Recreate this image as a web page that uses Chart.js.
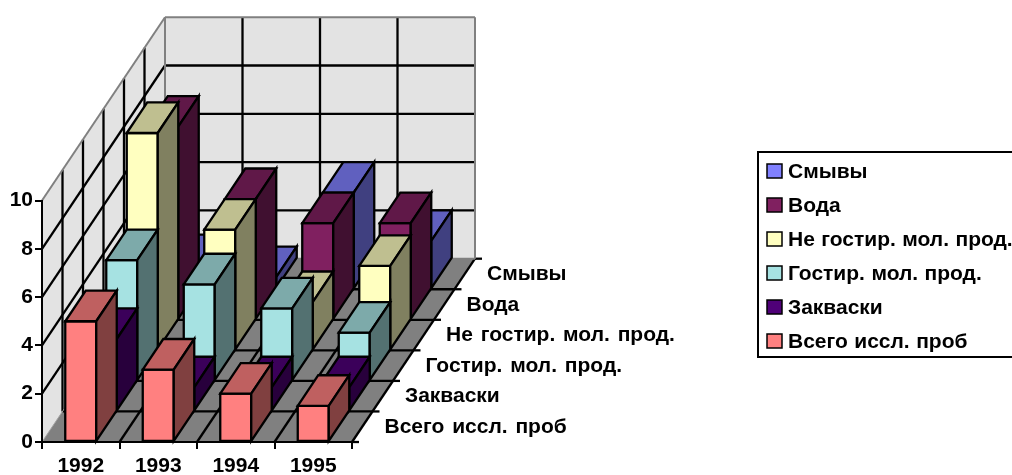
<!DOCTYPE html>
<html>
<head>
<meta charset="utf-8">
<title>Исследованные пробы</title>
<script src="https://cdn.jsdelivr.net/npm/chart.js@4"></script>
<style>
    html, body { margin: 0; padding: 0; background: #fff; overflow: hidden; }
    canvas { display: block; }
</style>
</head>
<body>
<canvas id="chart" width="1012" height="475"></canvas>
<script>
// Series go front to back along the depth axis
const years = ['1992', '1993', '1994', '1995'];
const seriesNames = ['Всего иссл. проб', 'Закваски', 'Гостир. мол. прод.', 'Не гостир. мол. прод.', 'Вода', 'Смывы'];
const vsegoProb = [5, 3, 2, 1.5];
const zakvaski = [3, 1, 1, 1];
const gostir = [5, 4, 3, 2];
const neGostir = [9, 5, 2, 3.5];
const voda = [8, 5, 4, 4];
const smyvy = [1, 0.5, 4, 2];
const seriesValues = [vsegoProb, zakvaski, gostir, neGostir, voda, smyvy];
const seriesColors = ['#FF8080', '#4F0078', '#A6E2E2', '#FFFFC0', '#802060', '#8080FF'];

// Oblique offset of one series slot along the depth axis
const DEPTH_X = 20.5;
const DEPTH_Y = 30.55;
const FONT = 'bold 21px "Liberation Sans", Arial, sans-serif';

function shade(hex, k) {
    const n = parseInt(hex.slice(1), 16);
    const r = Math.round((n >> 16 & 255) * k);
    const g = Math.round((n >> 8 & 255) * k);
    const b = Math.round((n & 255) * k);
    return `rgb(${r},${g},${b})`;
}

function poly(ctx, pts, fill) {
    ctx.beginPath();
    pts.forEach((p, i) => i ? ctx.lineTo(p[0], p[1]) : ctx.moveTo(p[0], p[1]));
    ctx.closePath();
    if (fill) {
        ctx.fillStyle = fill;
        ctx.fill();
    }
}

function line(ctx, x1, y1, x2, y2, color, width) {
    ctx.strokeStyle = color;
    ctx.lineWidth = width;
    ctx.beginPath();
    ctx.moveTo(x1, y1);
    ctx.lineTo(x2, y2);
    ctx.stroke();
}

// Walls, floor and the depth axis behind the bars
const walls = {
    id: 'walls',
    beforeDatasetsDraw(chart) {
        const { ctx, scales: { x, y } } = chart;
        const n = seriesNames.length;
        const dx = DEPTH_X * n;
        const dy = DEPTH_Y * n;
        const left = x.left, right = x.right;
        const y0 = y.getPixelForValue(0);
        const yTop = y.getPixelForValue(10);
        const edges = [];
        for (let i = 0; i <= years.length; i++) {
            edges.push(left + (right - left) * i / years.length);
        }

        ctx.save();
        ctx.lineCap = 'butt';
        poly(ctx, [[left + dx, yTop - dy], [right + dx, yTop - dy], [right + dx, y0 - dy], [left + dx, y0 - dy]], '#E3E3E3');
        poly(ctx, [[left, y0], [left, yTop], [left + dx, yTop - dy], [left + dx, y0 - dy]], '#E3E3E3');
        poly(ctx, [[left, y0], [right, y0], [right + dx, y0 - dy], [left + dx, y0 - dy]], '#808080');

        // value gridlines on the side and back walls
        y.ticks.forEach(t => {
            const py = y.getPixelForValue(t.value);
            if (t.value === 0 || t.value === 10) return;
            line(ctx, left, py, left + dx, py - dy, '#000', 2.3);
            line(ctx, left + dx, py - dy, right + dx, py - dy, '#000', 2.3);
        });
        // category lines on the back wall and floor
        edges.forEach((ex, i) => {
            if (i > 0 && i < edges.length - 1) {
                line(ctx, ex + dx, y0 - dy, ex + dx, yTop - dy, '#000', 2.3);
            }
            if (i > 0) line(ctx, ex, y0, ex + dx, y0 - dy, '#000', 2.3);
        });
        // depth lines on the floor and side wall, ticks on the right edge
        for (let i = 1; i <= n; i++) {
            const ox = DEPTH_X * i, oy = DEPTH_Y * i;
            if (i < n) {
                line(ctx, left + ox, y0 - oy, right + ox, y0 - oy, '#000', 2.3);
                line(ctx, left + ox, y0 - oy, left + ox, yTop - oy, '#000', 2.3);
            }
        }
        for (let i = 0; i <= n; i++) {
            const ox = DEPTH_X * i, oy = DEPTH_Y * i;
            line(ctx, right + ox, y0 - oy, right + ox + 7, y0 - oy, '#000', 2.3);
        }
        // grey outline of the walls
        line(ctx, left, yTop, left + dx, yTop - dy, '#808080', 2);
        line(ctx, left + dx, yTop - dy, right + dx, yTop - dy, '#808080', 2);
        line(ctx, right + dx, yTop - dy, right + dx, y0 - dy, '#808080', 2);
        line(ctx, left + dx, yTop - dy, left + dx, y0 - dy, '#808080', 2);
        line(ctx, left + dx, y0 - dy, right + dx, y0 - dy, '#808080', 2);
        line(ctx, left, y0, left + dx, y0 - dy, '#A0A0A0', 1);
        ctx.restore();
    }
};

// Each bar element becomes a box pushed back by its series slot
const boxes = {
    id: 'boxes',
    beforeDatasetDraw(chart, args) {
        const { ctx } = chart;
        const color = chart.data.datasets[args.index].backgroundColor;
        const ox = DEPTH_X * args.index;
        const oy = DEPTH_Y * args.index;
        ctx.save();
        ctx.strokeStyle = '#000';
        ctx.lineWidth = 2.3;
        ctx.lineJoin = 'miter';
        args.meta.data.forEach(el => {
            const { x, y, base, width } = el.getProps(['x', 'y', 'base', 'width'], true);
            const l = x - width / 2 + ox;
            const r = x + width / 2 + ox;
            const t = y - oy;
            const b = base - oy;
            poly(ctx, [[l, t], [r, t], [r, b], [l, b]], color);
            ctx.stroke();
            poly(ctx, [[l, t], [l + DEPTH_X, t - DEPTH_Y], [r + DEPTH_X, t - DEPTH_Y], [r, t]], shade(color, 0.75));
            ctx.stroke();
            poly(ctx, [[r, t], [r + DEPTH_X, t - DEPTH_Y], [r + DEPTH_X, b - DEPTH_Y], [r, b]], shade(color, 0.5));
            ctx.stroke();
        });
        ctx.restore();
        return false;
    }
};

// Depth axis labels and the framed legend
const labels = {
    id: 'labels',
    afterDraw(chart) {
        const { ctx, scales: { x, y } } = chart;
        const y0 = y.getPixelForValue(0);
        ctx.save();
        ctx.font = FONT;
        ctx.wordSpacing = '2px';
        ctx.fillStyle = '#000';
        ctx.textBaseline = 'middle';
        ctx.textAlign = 'left';
        seriesNames.forEach((name, i) => {
            ctx.fillText(name, x.right + 32.5 + DEPTH_X * i, y0 - 15 - DEPTH_Y * i);
        });

        ctx.strokeStyle = '#000';
        ctx.lineWidth = 2;
        ctx.beginPath();
        ctx.moveTo(1012, 152);
        ctx.lineTo(758, 152);
        ctx.lineTo(758, 357);
        ctx.lineTo(1012, 357);
        ctx.stroke();

        ctx.wordSpacing = '0.6px';
        const legendOrder = seriesNames.map((_, i) => i).reverse();
        legendOrder.forEach((s, row) => {
            const cy = 171 + row * 34;
            ctx.fillStyle = seriesColors[s];
            ctx.fillRect(767, cy - 7, 15, 14);
            ctx.lineWidth = 1.5;
            ctx.strokeRect(767, cy - 7, 15, 14);
            ctx.fillStyle = '#000';
            ctx.fillText(seriesNames[s], 788, cy + 1);
        });
        ctx.restore();
    }
};

new Chart(document.getElementById('chart'), {
    type: 'bar',
    data: {
        labels: years,
        datasets: seriesNames.map((name, i) => ({
            label: name,
            data: seriesValues[i],
            backgroundColor: seriesColors[i]
        }))
    },
    options: {
        responsive: false,
        animation: false,
        grouped: false,
        barPercentage: 0.4,
        categoryPercentage: 1,
        layout: { padding: { left: 0, top: 200.5, right: 660, bottom: 0 } },
        plugins: { legend: { display: false }, tooltip: { enabled: false } },
        scales: {
            x: {
                afterFit(scale) { scale.height = 33; },
                grid: { drawOnChartArea: false, tickLength: 7, color: '#000', lineWidth: 2, z: 1 },
                border: { color: '#000', width: 2, z: 1 },
                ticks: { color: '#000', font: { family: '"Liberation Sans"', size: 21, weight: 'bold' }, padding: 5, maxRotation: 0 }
            },
            y: {
                min: 0,
                max: 10,
                afterFit(scale) { scale.width = 42; },
                grid: { drawOnChartArea: false, tickLength: 7, color: '#000', lineWidth: 2, z: 1 },
                border: { color: '#000', width: 2, z: 1 },
                ticks: { stepSize: 2, color: '#000', font: { family: '"Liberation Sans"', size: 21, weight: 'bold' }, padding: 2 }
            }
        }
    },
    plugins: [walls, boxes, labels]
});
</script>
</body>
</html>
